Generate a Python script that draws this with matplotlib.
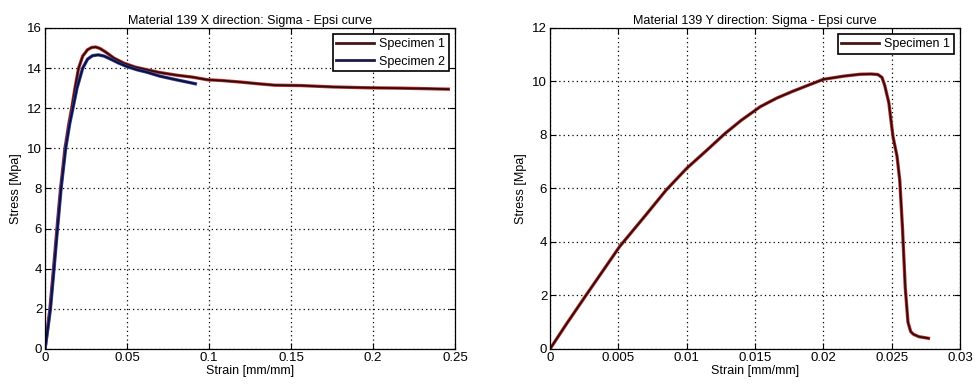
import numpy as np
import matplotlib
matplotlib.use("Agg")
import matplotlib.pyplot as plt

# --- данные: направление X ---
x_strain_s1 = [0.0, 0.0015, 0.0030, 0.0052, 0.0073, 0.0095, 0.0122, 0.0145, 0.0163,
               0.0185, 0.0205, 0.0230, 0.0260, 0.0285, 0.0310, 0.0335, 0.0370,
               0.0420, 0.0480, 0.0550, 0.0620, 0.0700, 0.0800, 0.0900, 0.0990,
               0.1080, 0.1200, 0.1300, 0.1400, 0.1560, 0.1760, 0.1970, 0.2170,
               0.2300, 0.2460]
x_stress_s1 = [0.0, 1.0, 2.0, 4.0, 6.0, 8.0, 10.0, 11.2, 12.0,
               13.1, 14.0, 14.6, 14.92, 15.03, 15.05, 14.98, 14.8,
               14.5, 14.25, 14.05, 13.92, 13.78, 13.65, 13.55, 13.42,
               13.38, 13.3, 13.22, 13.15, 13.13, 13.06, 13.02, 13.0,
               12.98, 12.95]

x_strain_s2 = [0.0, 0.0017, 0.0033, 0.0055, 0.0076, 0.0098, 0.0126, 0.0150, 0.0170,
               0.0195, 0.0230, 0.0260, 0.0290, 0.0325, 0.0360, 0.0400, 0.0450,
               0.0500, 0.0560, 0.0620, 0.0700, 0.0800, 0.0917]
x_stress_s2 = [0.0, 1.0, 2.0, 4.0, 6.0, 8.0, 10.0, 11.2, 12.0,
               13.0, 14.0, 14.45, 14.62, 14.66, 14.6, 14.45, 14.25,
               14.08, 13.92, 13.8, 13.6, 13.42, 13.22]

# --- данные: направление Y ---
y_strain_s1 = [0.0, 0.0012, 0.0026, 0.0051, 0.0070, 0.0085, 0.0100, 0.0115, 0.0128,
               0.0140, 0.0154, 0.0166, 0.0178, 0.0190, 0.0200, 0.0215, 0.0227,
               0.0235, 0.0240, 0.0243, 0.0245, 0.0248, 0.0251, 0.0254, 0.0256,
               0.0258, 0.0260, 0.0262, 0.0264, 0.0266, 0.0270, 0.0277]
y_stress_s1 = [0.0, 0.93, 1.98, 3.83, 5.0, 5.94, 6.75, 7.44, 8.05,
               8.55, 9.06, 9.38, 9.64, 9.88, 10.08, 10.2, 10.27,
               10.28, 10.26, 10.15, 9.85, 9.2, 7.95, 7.2, 6.3,
               4.5, 2.3, 1.0, 0.65, 0.55, 0.46, 0.40]

plt.rcParams['font.family'] = ['Liberation Sans', 'DejaVu Sans']

fig = plt.figure(figsize=(9.76, 3.86), dpi=100)
ax1 = fig.add_axes([0.0461, 0.0959, 0.420, 0.8316])
ax2 = fig.add_axes([0.5635, 0.0959, 0.420, 0.8316])


def draw_curve(ax, x, y, under, top, label):
    # тёмная линия с цветной каймой, как на исходнике
    ax.plot(x, y, color=under, linewidth=2.4, solid_joinstyle='round')
    ax.plot(x, y, color=top, linewidth=1.3, label=label, solid_joinstyle='round')


def style_axes(ax, title):
    ax.set_title(title, fontsize=9, pad=3)
    ax.set_xlabel("Strain [mm/mm]", fontsize=9, labelpad=1)
    ax.set_ylabel("Stress [Mpa]", fontsize=9, labelpad=4)
    ax.grid(True, color='black', linestyle=(0, (1, 2.5)), linewidth=0.9)
    ax.tick_params(direction='in', top=True, right=True, labelsize=9.5,
                   length=4, pad=2)
    for sp in ax.spines.values():
        sp.set_linewidth(0.9)
    leg = ax.legend(loc='upper right', fontsize=9, fancybox=False,
                    edgecolor='black', framealpha=1, handlelength=3.0,
                    borderpad=0.3, labelspacing=0.45, handletextpad=0.4,
                    borderaxespad=0.5)
    leg.get_frame().set_linewidth(1.2)
    return leg


draw_curve(ax1, x_strain_s1, x_stress_s1, '#c83030', '#2a0e0e', 'Specimen 1')
draw_curve(ax1, x_strain_s2, x_stress_s2, '#3040b0', '#10102a', 'Specimen 2')
ax1.set_xlim(0, 0.25)
ax1.set_ylim(0, 16)
ax1.set_xticks([0, 0.05, 0.1, 0.15, 0.2, 0.25])
ax1.set_xticklabels(['0', '0.05', '0.1', '0.15', '0.2', '0.25'])
ax1.set_yticks(np.arange(0, 17, 2))
leg1 = style_axes(ax1, "Material 139 X direction: Sigma - Epsi curve")
leg1.get_lines()[0].set_color('#4a1414')
leg1.get_lines()[1].set_color('#1a1a50')
for ln in leg1.get_lines():
    ln.set_linewidth(2)

draw_curve(ax2, y_strain_s1, y_stress_s1, '#c83030', '#2a0e0e', 'Specimen 1')
ax2.set_xlim(0, 0.03)
ax2.set_ylim(0, 12)
ax2.set_xticks([0, 0.005, 0.01, 0.015, 0.02, 0.025, 0.03])
ax2.set_xticklabels(['0', '0.005', '0.01', '0.015', '0.02', '0.025', '0.03'])
ax2.set_yticks(np.arange(0, 13, 2))
leg2 = style_axes(ax2, "Material 139 Y direction: Sigma - Epsi curve")
leg2.get_lines()[0].set_color('#4a1414')
leg2.get_lines()[0].set_linewidth(2)

fig.savefig("out.png", dpi=100)
